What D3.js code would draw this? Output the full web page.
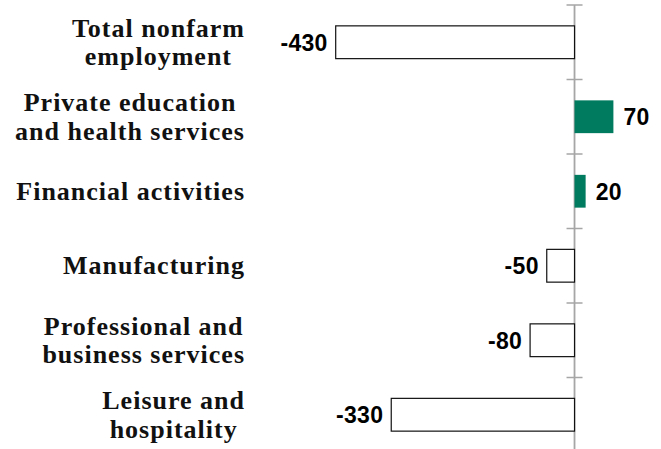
<!DOCTYPE html>
<html>
<head>
<meta charset="utf-8">
<script src="https://cdn.jsdelivr.net/npm/d3@7"></script>
<style>
  html, body { margin: 0; padding: 0; background: white; }
  #chart { width: 661px; height: 449px; }
</style>
</head>
<body>
<div id="chart"></div>
<script>
// categories, top to bottom
const categories = [
  ["Total nonfarm", "employment"],
  ["Private education", "and health services"],
  ["Financial activities"],
  ["Manufacturing"],
  ["Professional and", "business services"],
  ["Leisure and", "hospitality"]
]
// change, thousands of jobs
const values = [-430, 70, 20, -50, -80, -330]

const Width = 661, Height = 449
const labelRight = 245

const svg = d3.select("#chart").append("svg")
  .attr("width", Width)
  .attr("height", Height)

const keys = categories.map((d, i) => i)

const y = d3.scaleBand()
  .domain(keys)
  .range([5, 452])
  .paddingInner(0.56)
  .paddingOuter(0.28)

const x = d3.scaleLinear()
  .domain([-430, 70])
  .range([335.7, 613.4])

const step = y.step()

// axis at zero
svg.append("line")
  .attr("x1", x(0)).attr("x2", x(0))
  .attr("y1", y.range()[0]).attr("y2", y.range()[1])
  .attr("stroke", "#a6a6a6")
  .attr("stroke-width", 1.8)

// tick marks between categories
const tickPos = keys.map(k => y(k) - step * 0.28).concat([y.range()[1]])
svg.selectAll("line.tick")
  .data(tickPos)
  .enter().append("line")
  .attr("class", "tick")
  .attr("x1", x(0) - 8).attr("x2", x(0) + 8)
  .attr("y1", d => d).attr("y2", d => d)
  .attr("stroke", "#a6a6a6")
  .attr("stroke-width", 1.5)

// bars
svg.selectAll("rect.bar")
  .data(values)
  .enter().append("rect")
  .attr("class", "bar")
  .attr("x", d => x(Math.min(0, d)))
  .attr("y", (d, i) => y(i))
  .attr("width", d => Math.abs(x(d) - x(0)))
  .attr("height", y.bandwidth())
  .attr("fill", d => d < 0 ? "white" : "#007b5f")
  .attr("stroke", d => d < 0 ? "#111" : "none")
  .attr("stroke-width", 1.2)

// value labels
svg.selectAll("text.val")
  .data(values)
  .enter().append("text")
  .attr("class", "val")
  .attr("x", d => d < 0 ? x(d) - 8 : x(d) + 10)
  .attr("y", (d, i) => y(i) + y.bandwidth() / 2)
  .attr("dy", "0.36em")
  .attr("text-anchor", d => d < 0 ? "end" : "start")
  .style("font-family", "'Liberation Sans', Arial, sans-serif")
  .style("font-weight", "bold")
  .style("font-size", "23px")
  .style("letter-spacing", "0.3px")
  .attr("fill", "#000")
  .text(d => d)

// category labels: centred lines, block right-aligned
const lineH = 28.5
categories.forEach((lines, i) => {
  const cy = y(i) + y.bandwidth() / 2
  const g = svg.append("text")
    .attr("text-anchor", "middle")
    .style("font-family", "'Liberation Serif', 'Times New Roman', serif")
    .style("font-weight", "bold")
    .style("font-size", "26px")
    .style("letter-spacing", "1px")
    .attr("fill", "#111")
  lines.forEach((t, j) => {
    g.append("tspan")
      .attr("y", cy + (j - (lines.length - 1) / 2) * lineH)
      .attr("dy", "0.33em")
      .text(t)
  })
  const w = d3.max(g.selectAll("tspan").nodes(), n => n.getComputedTextLength())
  g.selectAll("tspan").attr("x", labelRight - w / 2)
})
</script>
</body>
</html>
